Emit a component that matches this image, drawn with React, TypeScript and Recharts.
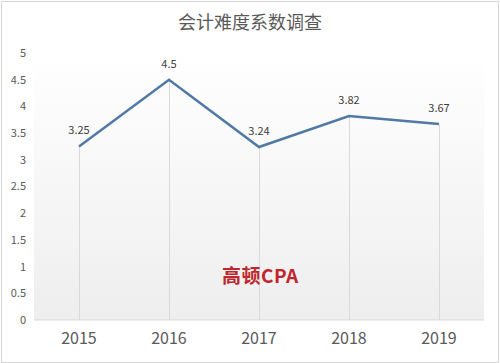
import React from 'react';
import { ComposedChart, Line, Bar, XAxis, YAxis, CartesianGrid, LabelList } from 'recharts';

const years = ['2015', '2016', '2017', '2018', '2019'];
const difficulty = [3.25, 4.5, 3.24, 3.82, 3.67];
const yTicks = [0, 0.5, 1, 1.5, 2, 2.5, 3, 3.5, 4, 4.5, 5];

const data = years.map((year, i) => ({ year, value: difficulty[i] }));

const font = '"Noto Sans CJK SC", "Open Sans", sans-serif';

export default function App() {
  return (
    <div style={{ position: 'absolute', left: 0, top: 0, width: 500, height: 363, background: '#fff', fontFamily: font }}>
      <div style={{ position: 'absolute', left: 1, top: 1, width: 496, height: 360, border: '1px solid #d6d6d6' }} />
      <div style={{ position: 'absolute', left: 0, top: 8, width: 500, textAlign: 'center', fontSize: 18, color: '#595959' }}>
        会计难度系数调查
      </div>
      <ComposedChart width={500} height={363} data={data} margin={{ top: 53, right: 16, bottom: 13, left: 0 }} style={{ position: 'absolute', left: 0, top: 0 }}>
        <defs>
          <linearGradient id="plotBg" x1="0" y1="0" x2="0" y2="1">
            <stop offset="0%" stopColor="#ffffff" />
            <stop offset="100%" stopColor="#eeeeee" />
          </linearGradient>
        </defs>
        <CartesianGrid horizontal={false} vertical={false} fill="url(#plotBg)" />
        <XAxis
          dataKey="year"
          height={30}
          tickLine={false}
          axisLine={{ stroke: '#d9d9d9' }}
          tickMargin={7}
          tick={{ fill: '#595959', fontSize: 16, fontFamily: font }}
        />
        <YAxis
          domain={[0, 5]}
          ticks={yTicks}
          width={34}
          tickLine={false}
          axisLine={false}
          tick={{ fill: '#595959', fontSize: 11, fontFamily: font }}
        />
        <Bar dataKey="value" barSize={1} fill="#d9d9d9" isAnimationActive={false} />
        <Line type="linear" dataKey="value" stroke="#5079a5" strokeWidth={2.5} dot={false} isAnimationActive={false}>
          <LabelList dataKey="value" position="top" offset={12} fill="#404040" fontSize={11} fontFamily={font} />
        </Line>
      </ComposedChart>
      <div style={{ position: 'absolute', left: 222, top: 261, fontSize: 19, fontWeight: 'bold', color: '#c0262d', letterSpacing: 0.5 }}>
        高顿CPA
      </div>
    </div>
  );
}
